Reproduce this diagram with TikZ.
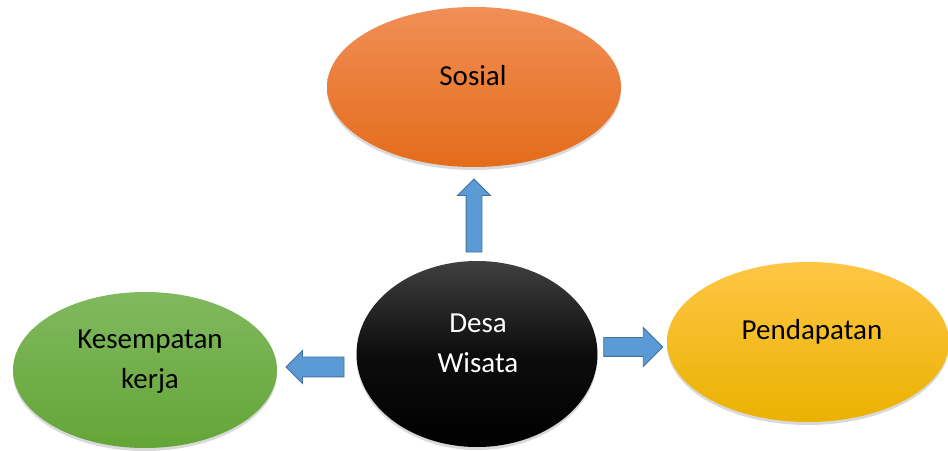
\documentclass[tikz,border=0pt]{standalone}
\usepackage{fontspec}
\setmainfont{Carlito}
\usetikzlibrary{shapes.geometric, shapes.arrows, shadows}
\definecolor{arrowblue}{HTML}{5B9BD5}
\definecolor{arrowline}{HTML}{41719C}

\begin{document}
\begin{tikzpicture}[x=1pt, y=1pt,
	bubble/.style={ellipse, draw=none, inner sep=0pt,
		drop shadow={shadow xshift=0pt, shadow yshift=-3pt, opacity=0.3}},
	label text/.style={align=center, font=\fontsize{29}{40}\selectfont},
	blockarrow/.style={single arrow, draw=arrowline, fill=arrowblue, line width=0.9pt,
		inner xsep=0pt, single arrow head indent=0pt}]
	\useasboundingbox (0,0) rectangle (948,450);

	%elipse
	\node[bubble, minimum width=294, minimum height=160,
		top color={rgb,255:red,241;green,143;blue,87}, middle color={rgb,255:red,240;green,124;blue,44},
		bottom color={rgb,255:red,228;green,108;blue,26}]
		(sosial) at (474, 363) {};
	\node[bubble, minimum width=241, minimum height=186,
		top color=black!75, bottom color=black, middle color=black!95]
		(desa) at (477, 96) {};
	\node[bubble, minimum width=264, minimum height=156,
		top color={rgb,255:red,128;green,185;blue,94}, middle color={rgb,255:red,112;green,173;blue,71},
		bottom color={rgb,255:red,100;green,165;blue,55}]
		(kerja) at (145, 80) {};
	\node[bubble, minimum width=282, minimum height=160,
		top color={rgb,255:red,255;green,198;blue,70}, middle color={rgb,255:red,255;green,192;blue,0},
		bottom color={rgb,255:red,234;green,178;blue,0}]
		(pendapatan) at (808, 108) {};

	%tekst
	\node[label text] (sosialtext) at (473, 374) {Sosial};
	\node[label text, text=white] (desatext) at (478, 107) {Desa\\Wisata};
	\node[label text] (kerjatext) at (150, 88) {Kesempatan\\kerja};
	\node[label text] (pendapatantext) at (812, 118) {Pendapatan};

	%strelice
	\node[blockarrow, rotate=90, minimum height=73, inner ysep=7.5,
		single arrow head extend=8.5] (gore) at (474, 230.5) {};
	\node[blockarrow, rotate=180, minimum height=58, inner ysep=9.5,
		single arrow head extend=6.5] (lijevo) at (320, 83) {};
	\node[blockarrow, minimum height=59, inner ysep=9,
		single arrow head extend=10] (desno) at (628.5, 103) {};

\end{tikzpicture}
\end{document}
